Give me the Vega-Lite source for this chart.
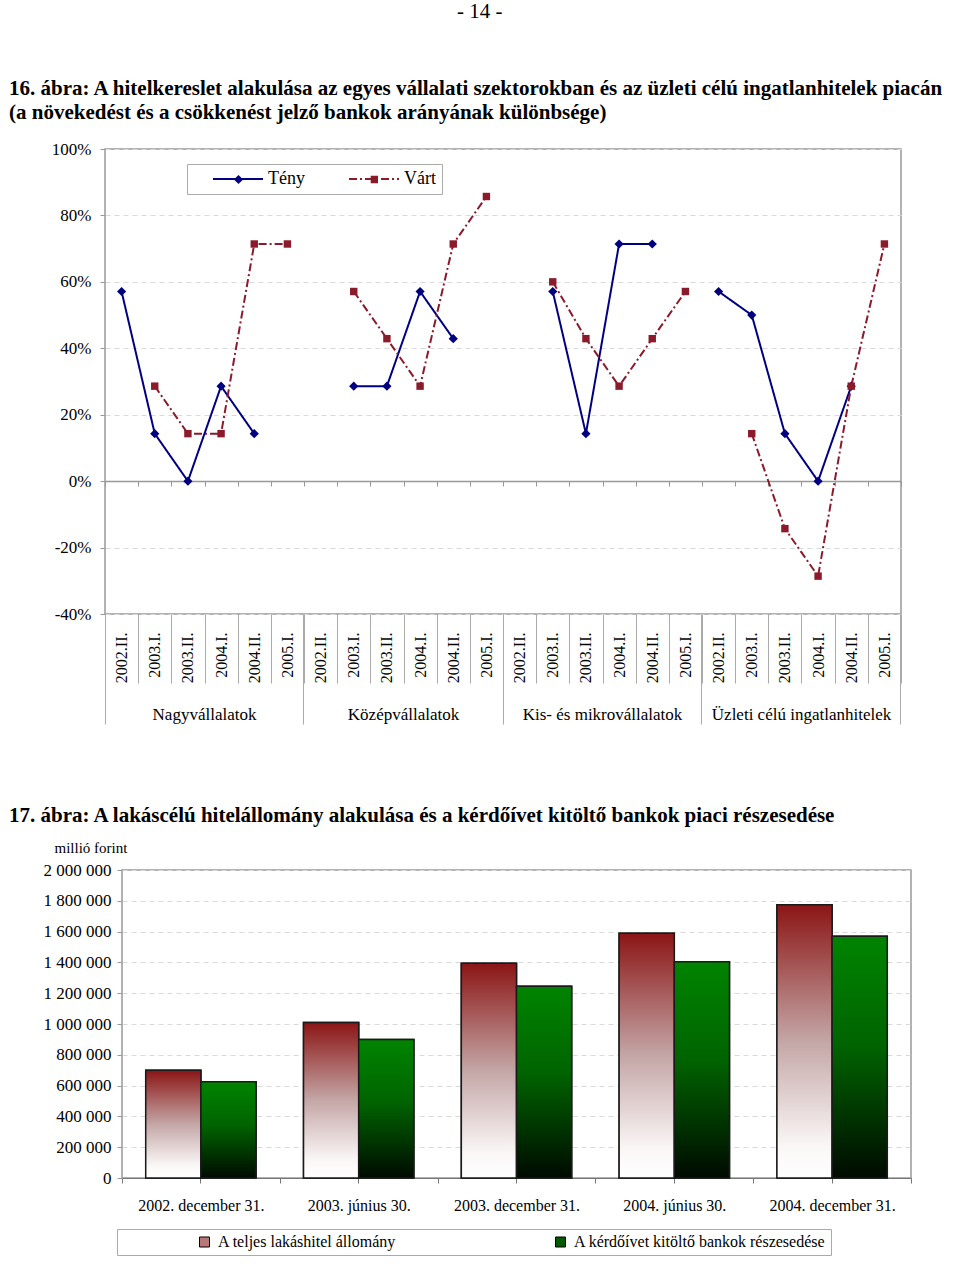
{
  "$schema": "https://vega.github.io/schema/vega-lite/v6.json",
  "background": "white",
  "padding": {"left": 8, "top": 1, "right": 0, "bottom": 0},
  "title": {"text": "- 14 -", "anchor": "middle", "fontSize": 21, "fontWeight": "normal", "font": "Liberation Serif", "color": "#000", "offset": 55, "dx": 3},
  "config": {
    "font": "Liberation Serif",
    "axis": {"labelFont": "Liberation Serif", "labelColor": "#000", "titleFont": "Liberation Serif", "titleColor": "#000", "labelLimit": 400},
    "legend": {"labelFont": "Liberation Serif", "labelColor": "#000", "labelLimit": 400, "titleFont": "Liberation Serif"}
  },
  "spacing": 78,
  "vconcat": [
    {
      "width": 796,
      "height": 465,
      "title": {"text": ["16. ábra: A hitelkereslet alakulása az egyes vállalati szektorokban és az üzleti célú ingatlanhitelek piacán", "(a növekedést és a csökkenést jelző bankok arányának különbsége)"], "anchor": "start", "frame": "group", "dx": -96, "fontSize": 21, "fontWeight": "bold", "font": "Liberation Serif", "color": "#000", "lineHeight": 24, "offset": 17},
      "view": {"stroke": "#999999", "strokeWidth": 1.5},
      "data": {"values": [
        {"g": "Nagyvállalatok", "k": "Nagyvállalatok|2002.II.", "s": "Tény", "v": 57.1},
        {"g": "Nagyvállalatok", "k": "Nagyvállalatok|2003.I.", "s": "Tény", "v": 14.3},
        {"g": "Nagyvállalatok", "k": "Nagyvállalatok|2003.II.", "s": "Tény", "v": 0},
        {"g": "Nagyvállalatok", "k": "Nagyvállalatok|2004.I.", "s": "Tény", "v": 28.6},
        {"g": "Nagyvállalatok", "k": "Nagyvállalatok|2004.II.", "s": "Tény", "v": 14.3},
        {"g": "Nagyvállalatok", "k": "Nagyvállalatok|2003.I.", "s": "Várt", "v": 28.6},
        {"g": "Nagyvállalatok", "k": "Nagyvállalatok|2003.II.", "s": "Várt", "v": 14.3},
        {"g": "Nagyvállalatok", "k": "Nagyvállalatok|2004.I.", "s": "Várt", "v": 14.3},
        {"g": "Nagyvállalatok", "k": "Nagyvállalatok|2004.II.", "s": "Várt", "v": 71.4},
        {"g": "Nagyvállalatok", "k": "Nagyvállalatok|2005.I.", "s": "Várt", "v": 71.4},
        {"g": "Középvállalatok", "k": "Középvállalatok|2003.I.", "s": "Tény", "v": 28.6},
        {"g": "Középvállalatok", "k": "Középvállalatok|2003.II.", "s": "Tény", "v": 28.6},
        {"g": "Középvállalatok", "k": "Középvállalatok|2004.I.", "s": "Tény", "v": 57.1},
        {"g": "Középvállalatok", "k": "Középvállalatok|2004.II.", "s": "Tény", "v": 42.9},
        {"g": "Középvállalatok", "k": "Középvállalatok|2003.I.", "s": "Várt", "v": 57.1},
        {"g": "Középvállalatok", "k": "Középvállalatok|2003.II.", "s": "Várt", "v": 42.9},
        {"g": "Középvállalatok", "k": "Középvállalatok|2004.I.", "s": "Várt", "v": 28.6},
        {"g": "Középvállalatok", "k": "Középvállalatok|2004.II.", "s": "Várt", "v": 71.4},
        {"g": "Középvállalatok", "k": "Középvállalatok|2005.I.", "s": "Várt", "v": 85.7},
        {"g": "Kis- és mikrovállalatok", "k": "Kis- és mikrovállalatok|2003.I.", "s": "Tény", "v": 57.1},
        {"g": "Kis- és mikrovállalatok", "k": "Kis- és mikrovállalatok|2003.II.", "s": "Tény", "v": 14.3},
        {"g": "Kis- és mikrovállalatok", "k": "Kis- és mikrovállalatok|2004.I.", "s": "Tény", "v": 71.4},
        {"g": "Kis- és mikrovállalatok", "k": "Kis- és mikrovállalatok|2004.II.", "s": "Tény", "v": 71.4},
        {"g": "Kis- és mikrovállalatok", "k": "Kis- és mikrovállalatok|2003.I.", "s": "Várt", "v": 60},
        {"g": "Kis- és mikrovállalatok", "k": "Kis- és mikrovállalatok|2003.II.", "s": "Várt", "v": 42.9},
        {"g": "Kis- és mikrovállalatok", "k": "Kis- és mikrovállalatok|2004.I.", "s": "Várt", "v": 28.6},
        {"g": "Kis- és mikrovállalatok", "k": "Kis- és mikrovállalatok|2004.II.", "s": "Várt", "v": 42.9},
        {"g": "Kis- és mikrovállalatok", "k": "Kis- és mikrovállalatok|2005.I.", "s": "Várt", "v": 57.1},
        {"g": "Üzleti célú ingatlanhitelek", "k": "Üzleti célú ingatlanhitelek|2002.II.", "s": "Tény", "v": 57.1},
        {"g": "Üzleti célú ingatlanhitelek", "k": "Üzleti célú ingatlanhitelek|2003.I.", "s": "Tény", "v": 50},
        {"g": "Üzleti célú ingatlanhitelek", "k": "Üzleti célú ingatlanhitelek|2003.II.", "s": "Tény", "v": 14.3},
        {"g": "Üzleti célú ingatlanhitelek", "k": "Üzleti célú ingatlanhitelek|2004.I.", "s": "Tény", "v": 0},
        {"g": "Üzleti célú ingatlanhitelek", "k": "Üzleti célú ingatlanhitelek|2004.II.", "s": "Tény", "v": 28.6},
        {"g": "Üzleti célú ingatlanhitelek", "k": "Üzleti célú ingatlanhitelek|2003.I.", "s": "Várt", "v": 14.3},
        {"g": "Üzleti célú ingatlanhitelek", "k": "Üzleti célú ingatlanhitelek|2003.II.", "s": "Várt", "v": -14.3},
        {"g": "Üzleti célú ingatlanhitelek", "k": "Üzleti célú ingatlanhitelek|2004.I.", "s": "Várt", "v": -28.6},
        {"g": "Üzleti célú ingatlanhitelek", "k": "Üzleti célú ingatlanhitelek|2004.II.", "s": "Várt", "v": 28.6},
        {"g": "Üzleti célú ingatlanhitelek", "k": "Üzleti célú ingatlanhitelek|2005.I.", "s": "Várt", "v": 71.4}
      ]},
      "encoding": {
        "y": {"field": "v", "type": "quantitative", "scale": {"domain": [-40, 100], "nice": false, "zero": false},
          "axis": {"title": null, "values": [-40, -20, 0, 20, 40, 60, 80, 100], "labelExpr": "datum.value + '%'", "labelFontSize": 17, "labelPadding": 9, "tickSize": 5, "tickColor": "#999999", "domain": false, "grid": true, "gridDash": [5, 4], "gridColor": "#d9d9d9"}}
      },
      "layer": [
        {
          "mark": {"type": "line", "strokeWidth": 2},
          "encoding": {
            "x": {"field": "k", "type": "nominal", "sort": null,
              "scale": {"type": "band", "paddingInner": 0, "paddingOuter": 0, "domain": ["Nagyvállalatok|2002.II.", "Nagyvállalatok|2003.I.", "Nagyvállalatok|2003.II.", "Nagyvállalatok|2004.I.", "Nagyvállalatok|2004.II.", "Nagyvállalatok|2005.I.", "Középvállalatok|2002.II.", "Középvállalatok|2003.I.", "Középvállalatok|2003.II.", "Középvállalatok|2004.I.", "Középvállalatok|2004.II.", "Középvállalatok|2005.I.", "Kis- és mikrovállalatok|2002.II.", "Kis- és mikrovállalatok|2003.I.", "Kis- és mikrovállalatok|2003.II.", "Kis- és mikrovállalatok|2004.I.", "Kis- és mikrovállalatok|2004.II.", "Kis- és mikrovállalatok|2005.I.", "Üzleti célú ingatlanhitelek|2002.II.", "Üzleti célú ingatlanhitelek|2003.I.", "Üzleti célú ingatlanhitelek|2003.II.", "Üzleti célú ingatlanhitelek|2004.I.", "Üzleti célú ingatlanhitelek|2004.II.", "Üzleti célú ingatlanhitelek|2005.I."]},
              "axis": {"orient": "bottom", "title": null, "labelExpr": "split(datum.value, '|')[1]", "labelAngle": -90, "labelAlign": "right", "labelBaseline": "middle", "labelFontSize": 16, "labelPadding": -51, "tickBand": "extent", "tickSize": 69, "tickColor": "#aaaaaa", "domain": false, "grid": false, "labelOverlap": false}},
            "color": {"field": "s", "type": "nominal", "scale": {"domain": ["Tény", "Várt"], "range": ["#000080", "#8b1a2b"]},
              "legend": {"title": null, "orient": "none", "legendX": 82, "legendY": 15, "direction": "horizontal", "symbolType": "stroke", "symbolSize": 2500, "symbolStrokeWidth": 2, "clipHeight": 18, "labelFontSize": 18, "padding": 6, "symbolOffset": 19, "labelOffset": 4, "columnPadding": 24, "strokeColor": "#aaaaaa"}},
            "strokeDash": {"field": "s", "type": "nominal", "scale": {"domain": ["Tény", "Várt"], "range": [[1, 0], [8, 3, 2, 3]]},
              "legend": {"title": null, "orient": "none", "legendX": 82, "legendY": 15, "direction": "horizontal", "symbolType": "stroke", "symbolSize": 2500, "symbolStrokeWidth": 2, "clipHeight": 18, "labelFontSize": 18, "padding": 6, "symbolOffset": 19, "labelOffset": 4, "columnPadding": 24, "strokeColor": "#aaaaaa"}},
            "detail": {"field": "g"}
          }
        },
        {
          "transform": [{"filter": "datum.s === 'Tény'"}],
          "mark": {"type": "point", "filled": true, "size": 85, "color": "#000080", "opacity": 1},
          "encoding": {
            "x": {"field": "k", "type": "nominal", "sort": null,
              "scale": {"type": "band", "paddingInner": 0, "paddingOuter": 0, "domain": ["Nagyvállalatok|2002.II.", "Nagyvállalatok|2003.I.", "Nagyvállalatok|2003.II.", "Nagyvállalatok|2004.I.", "Nagyvállalatok|2004.II.", "Nagyvállalatok|2005.I.", "Középvállalatok|2002.II.", "Középvállalatok|2003.I.", "Középvállalatok|2003.II.", "Középvállalatok|2004.I.", "Középvállalatok|2004.II.", "Középvállalatok|2005.I.", "Kis- és mikrovállalatok|2002.II.", "Kis- és mikrovállalatok|2003.I.", "Kis- és mikrovállalatok|2003.II.", "Kis- és mikrovállalatok|2004.I.", "Kis- és mikrovállalatok|2004.II.", "Kis- és mikrovállalatok|2005.I.", "Üzleti célú ingatlanhitelek|2002.II.", "Üzleti célú ingatlanhitelek|2003.I.", "Üzleti célú ingatlanhitelek|2003.II.", "Üzleti célú ingatlanhitelek|2004.I.", "Üzleti célú ingatlanhitelek|2004.II.", "Üzleti célú ingatlanhitelek|2005.I."]},
              "axis": {"orient": "bottom", "title": null, "values": ["Nagyvállalatok|2005.I.", "Középvállalatok|2005.I.", "Kis- és mikrovállalatok|2005.I.", "Üzleti célú ingatlanhitelek|2005.I."], "bandPosition": 1, "labelExpr": "split(datum.value, '|')[0]", "labelOffset": -82.9, "labelAngle": 0, "labelAlign": "center", "labelBaseline": "top", "labelFontSize": 17, "labelPadding": -18, "tickSize": 110, "tickColor": "#aaaaaa", "domain": false, "grid": false, "labelOverlap": false, "labelBound": false}},
            "shape": {"datum": "Tény", "type": "nominal", "scale": {"domain": ["Várt", "Tény"], "range": ["square", "diamond"]},
              "legend": {"title": null, "orient": "none", "legendX": 128.5, "legendY": 25.5, "values": ["Tény"], "symbolSize": 85, "symbolFillColor": "#000080", "symbolStrokeWidth": 0, "clipHeight": 10, "labelOpacity": 0, "labelFontSize": 8, "padding": 0}}
          }
        },
        {
          "transform": [{"filter": "datum.s === 'Várt'"}],
          "mark": {"type": "point", "filled": true, "size": 55, "color": "#8b1a2b", "opacity": 1},
          "encoding": {
            "x": {"field": "k", "type": "nominal", "sort": null,
              "scale": {"type": "band", "paddingInner": 0, "paddingOuter": 0, "domain": ["Nagyvállalatok|2002.II.", "Nagyvállalatok|2003.I.", "Nagyvállalatok|2003.II.", "Nagyvállalatok|2004.I.", "Nagyvállalatok|2004.II.", "Nagyvállalatok|2005.I.", "Középvállalatok|2002.II.", "Középvállalatok|2003.I.", "Középvállalatok|2003.II.", "Középvállalatok|2004.I.", "Középvállalatok|2004.II.", "Középvállalatok|2005.I.", "Kis- és mikrovállalatok|2002.II.", "Kis- és mikrovállalatok|2003.I.", "Kis- és mikrovállalatok|2003.II.", "Kis- és mikrovállalatok|2004.I.", "Kis- és mikrovállalatok|2004.II.", "Kis- és mikrovállalatok|2005.I.", "Üzleti célú ingatlanhitelek|2002.II.", "Üzleti célú ingatlanhitelek|2003.I.", "Üzleti célú ingatlanhitelek|2003.II.", "Üzleti célú ingatlanhitelek|2004.I.", "Üzleti célú ingatlanhitelek|2004.II.", "Üzleti célú ingatlanhitelek|2005.I."]},
              "axis": {"orient": "bottom", "title": null, "values": ["Nagyvállalatok|2002.II."], "bandPosition": 0, "labels": false, "tickSize": 110, "tickColor": "#aaaaaa", "domain": false, "grid": false}},
            "shape": {"datum": "Várt", "type": "nominal", "scale": {"domain": ["Várt", "Tény"], "range": ["square", "diamond"]},
              "legend": {"title": null, "orient": "none", "legendX": 265.3, "legendY": 25.5, "values": ["Várt"], "symbolSize": 55, "symbolFillColor": "#8b1a2b", "symbolStrokeWidth": 0, "clipHeight": 10, "labelOpacity": 0, "labelFontSize": 8, "padding": 0}}
          }
        },
        {
          "mark": {"type": "point", "opacity": 0},
          "encoding": {
            "x": {"field": "k", "type": "nominal", "sort": null,
              "scale": {"type": "band", "paddingInner": 0, "paddingOuter": 0, "domain": ["Nagyvállalatok|2002.II.", "Nagyvállalatok|2003.I.", "Nagyvállalatok|2003.II.", "Nagyvállalatok|2004.I.", "Nagyvállalatok|2004.II.", "Nagyvállalatok|2005.I.", "Középvállalatok|2002.II.", "Középvállalatok|2003.I.", "Középvállalatok|2003.II.", "Középvállalatok|2004.I.", "Középvállalatok|2004.II.", "Középvállalatok|2005.I.", "Kis- és mikrovállalatok|2002.II.", "Kis- és mikrovállalatok|2003.I.", "Kis- és mikrovállalatok|2003.II.", "Kis- és mikrovállalatok|2004.I.", "Kis- és mikrovállalatok|2004.II.", "Kis- és mikrovállalatok|2005.I.", "Üzleti célú ingatlanhitelek|2002.II.", "Üzleti célú ingatlanhitelek|2003.I.", "Üzleti célú ingatlanhitelek|2003.II.", "Üzleti célú ingatlanhitelek|2004.I.", "Üzleti célú ingatlanhitelek|2004.II.", "Üzleti célú ingatlanhitelek|2005.I."]},
              "axis": {"orient": "bottom", "title": null, "offset": -133, "tickBand": "extent", "tickSize": 5, "tickColor": "#999999", "labels": false, "domain": true, "domainColor": "#999999", "domainWidth": 1.5, "grid": false}}
          }
        }
      ],
      "resolve": {"axis": {"x": "independent"}, "legend": {"shape": "independent"}}
    },
    {
      "spacing": 0,
      "bounds": "flush",
      "hconcat": [
        {
          "width": 17,
          "height": 10,
          "view": {"stroke": null},
          "data": {"values": [{"n": 0}]},
          "mark": {"type": "point", "opacity": 0}
        },
        {
          "width": 789,
          "height": 308,
          "title": {"text": "17. ábra: A lakáscélú hitelállomány alakulása és a kérdőívet kitöltő bankok piaci részesedése", "anchor": "start", "frame": "group", "dx": -113, "fontSize": 21, "fontWeight": "bold", "font": "Liberation Serif", "color": "#000", "offset": 14},
          "view": {"stroke": "#999999", "strokeWidth": 1.5},
          "data": {"values": [
            {"d": "2002. december 31.", "s": "A teljes lakáshitel állomány", "v": 700000},
            {"d": "2002. december 31.", "s": "A kérdőívet kitöltő bankok részesedése", "v": 625000},
            {"d": "2003. június 30.", "s": "A teljes lakáshitel állomány", "v": 1010000},
            {"d": "2003. június 30.", "s": "A kérdőívet kitöltő bankok részesedése", "v": 900000},
            {"d": "2003. december 31.", "s": "A teljes lakáshitel állomány", "v": 1395000},
            {"d": "2003. december 31.", "s": "A kérdőívet kitöltő bankok részesedése", "v": 1245000},
            {"d": "2004. június 30.", "s": "A teljes lakáshitel állomány", "v": 1590000},
            {"d": "2004. június 30.", "s": "A kérdőívet kitöltő bankok részesedése", "v": 1405000},
            {"d": "2004. december 31.", "s": "A teljes lakáshitel állomány", "v": 1775000},
            {"d": "2004. december 31.", "s": "A kérdőívet kitöltő bankok részesedése", "v": 1570000}
          ]},
          "encoding": {
            "y": {"field": "v", "type": "quantitative", "scale": {"domain": [0, 2000000], "nice": false},
              "axis": {"title": "millió forint", "titleAngle": 0, "titleAlign": "left", "titleBaseline": "middle", "titleX": -68, "titleY": -23, "titleFontSize": 15, "titleFontWeight": "normal",
                "values": [0, 200000, 400000, 600000, 800000, 1000000, 1200000, 1400000, 1600000, 1800000, 2000000],
                "labelExpr": "replace(format(datum.value, ','), regexp(',', 'g'), ' ')", "labelFontSize": 17, "labelPadding": 6, "tickSize": 5, "tickColor": "#999999", "domain": false, "grid": true, "gridDash": [5, 4], "gridColor": "#d9d9d9"}},
            "xOffset": {"field": "s", "type": "nominal", "scale": {"domain": ["A teljes lakáshitel állomány", "A kérdőívet kitöltő bankok részesedése"], "paddingInner": 0, "paddingOuter": 0.43}}
          },
          "layer": [
            {
              "mark": {"type": "bar", "stroke": "#1a1a1a", "strokeWidth": 1.5},
              "encoding": {
                "x": {"field": "d", "type": "nominal", "sort": null, "scale": {"paddingInner": 0, "paddingOuter": 0},
                  "axis": {"orient": "bottom", "title": null, "labelAngle": 0, "labelFontSize": 16, "labelPadding": 14, "tickBand": "extent", "tickSize": 5, "tickColor": "#777777", "domain": true, "domainColor": "#777777", "grid": false}},
                "fill": {"field": "s", "type": "nominal", "scale": {"domain": ["A teljes lakáshitel állomány", "A kérdőívet kitöltő bankok részesedése"], "range": ["#b87878", "#005a00"]},
                  "legend": {"title": null, "orient": "none", "legendX": 12, "legendY": 1080, "direction": "horizontal", "symbolType": "square", "symbolSize": 100, "symbolStrokeWidth": 1, "symbolStrokeColor": "#000000", "labelFontSize": 16, "padding": 5, "symbolOffset": 74.5, "labelOffset": 5.5, "columnPadding": 81, "strokeColor": "#aaaaaa"}}
              }
            },
            {
              "transform": [{"filter": "datum.s === 'A teljes lakáshitel állomány'"}],
              "mark": {"type": "bar", "stroke": "#1a1a1a", "strokeWidth": 1.5, "fill": {"gradient": "linear", "x1": 0, "y1": 0, "x2": 0, "y2": 1, "stops": [{"offset": 0, "color": "#8b1515"}, {"offset": 0.5, "color": "#c4a6a6"}, {"offset": 0.88, "color": "#faf6f6"}, {"offset": 1, "color": "#ffffff"}]}},
              "encoding": {
                "x": {"field": "d", "type": "nominal", "sort": null, "scale": {"paddingInner": 0, "paddingOuter": 0},
                  "axis": {"orient": "bottom", "title": null, "labels": false, "tickSize": 5, "tickColor": "#777777", "domain": false, "grid": false}}
              }
            },
            {
              "transform": [{"filter": "datum.s === 'A kérdőívet kitöltő bankok részesedése'"}],
              "mark": {"type": "bar", "stroke": "#1a1a1a", "strokeWidth": 1.5, "fill": {"gradient": "linear", "x1": 0, "y1": 0, "x2": 0, "y2": 1, "stops": [{"offset": 0, "color": "#008400"}, {"offset": 0.45, "color": "#006400"}, {"offset": 1, "color": "#000a00"}]}},
              "encoding": {
                "x": {"field": "d", "type": "nominal", "sort": null, "scale": {"paddingInner": 0, "paddingOuter": 0}, "axis": null}
              }
            }
          ],
          "resolve": {"axis": {"x": "independent"}}
        }
      ]
    }
  ]
}
